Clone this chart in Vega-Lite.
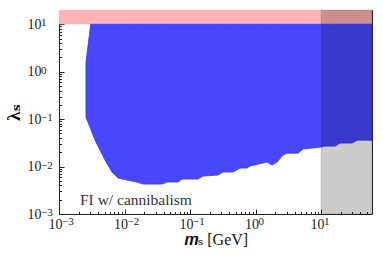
{
  "$schema": "https://vega.github.io/schema/vega-lite/v6.json",
  "width": 313,
  "height": 204,
  "autosize": {"type": "none"},
  "padding": {"left": 59, "top": 10, "right": 11, "bottom": 46},
  "config": {
    "view": {"stroke": "#222", "strokeWidth": 1},
    "font": "Liberation Serif, DejaVu Serif",
    "axis": {"grid": false, "domain": false, "tickColor": "#222", "labelColor": "#222", "titleColor": "#111", "labelFont": "Liberation Serif", "titleFont": "Liberation Serif, DejaVu Serif"}
  },
  "resolve": {"axis": {"x": "independent", "y": "independent"}},
  "layer": [
    {
      "data": {"values": [{"x": 0.001, "x2": 60, "y": 10, "y2": 20}]},
      "mark": {"type": "rect", "fill": "#ffb3b3"},
      "encoding": {
        "x": {"field": "x", "type": "quantitative", "scale": {"type": "log", "domain": [0.001, 60], "nice": false}, "axis": null},
        "x2": {"field": "x2"},
        "y": {"field": "y", "type": "quantitative", "scale": {"type": "log", "domain": [0.001, 20], "nice": false}, "axis": null},
        "y2": {"field": "y2"}
      }
    },
    {
      "data": {"values": [
        {"x": 0.00258, "lo": 0.110, "hi": 1.58},
        {"x": 0.00305, "lo": 0.0616, "hi": 10},
        {"x": 0.00355, "lo": 0.0361, "hi": 10},
        {"x": 0.00504, "lo": 0.0137, "hi": 10},
        {"x": 0.00644, "lo": 0.00766, "hi": 10},
        {"x": 0.00796, "lo": 0.00573, "hi": 10},
        {"x": 0.0109, "lo": 0.0052, "hi": 10},
        {"x": 0.0155, "lo": 0.00472, "hi": 10},
        {"x": 0.0192, "lo": 0.00428, "hi": 10},
        {"x": 0.0374, "lo": 0.00428, "hi": 10},
        {"x": 0.0446, "lo": 0.00472, "hi": 10},
        {"x": 0.0656, "lo": 0.00472, "hi": 10},
        {"x": 0.0755, "lo": 0.00546, "hi": 10},
        {"x": 0.1324, "lo": 0.00546, "hi": 10},
        {"x": 0.158, "lo": 0.0063, "hi": 10},
        {"x": 0.267, "lo": 0.00662, "hi": 10},
        {"x": 0.319, "lo": 0.00766, "hi": 10},
        {"x": 0.453, "lo": 0.00766, "hi": 10},
        {"x": 0.579, "lo": 0.00929, "hi": 10},
        {"x": 0.741, "lo": 0.00929, "hi": 10},
        {"x": 0.824, "lo": 0.01025, "hi": 10},
        {"x": 1.30, "lo": 0.01186, "hi": 10},
        {"x": 1.50, "lo": 0.01245, "hi": 10},
        {"x": 1.79, "lo": 0.01076, "hi": 10},
        {"x": 2.13, "lo": 0.01245, "hi": 10},
        {"x": 2.63, "lo": 0.01746, "hi": 10},
        {"x": 3.03, "lo": 0.0192, "hi": 10},
        {"x": 4.46, "lo": 0.0192, "hi": 10},
        {"x": 5.31, "lo": 0.0234, "hi": 10},
        {"x": 9.66, "lo": 0.0257, "hi": 10},
        {"x": 11.5, "lo": 0.0270, "hi": 10},
        {"x": 16.4, "lo": 0.0270, "hi": 10},
        {"x": 19.5, "lo": 0.0313, "hi": 10},
        {"x": 29.7, "lo": 0.0313, "hi": 10},
        {"x": 35.5, "lo": 0.0361, "hi": 10},
        {"x": 60, "lo": 0.0361, "hi": 10}
      ]},
      "mark": {"type": "area", "fill": "#4848ff", "stroke": "#3535f0", "strokeWidth": 0.8, "opacity": 1},
      "encoding": {
        "x": {"field": "x", "type": "quantitative", "sort": null,
          "axis": {"orient": "bottom", "values": [0.001, 0.01, 0.1, 1, 10], "labelExpr": "'10'", "labelAlign": "right", "labelBaseline": "top", "labelOffset": 3, "tickSize": -5, "labelPadding": 8, "labelFontSize": 14, "title": "𝒎ₛ [GeV]", "titleFontSize": 16, "titleFontWeight": "normal", "titlePadding": 0}},
        "y": {"field": "lo", "type": "quantitative",
          "axis": {"orient": "left", "values": [0.001, 0.01, 0.1, 1, 10], "labelExpr": "'10'", "tickSize": -5, "labelPadding": 23, "labelFontSize": 14, "title": "λₛ", "titleFontSize": 19, "titleFontWeight": "bold", "titlePadding": 4}},
        "y2": {"field": "hi"}
      }
    },
    {
      "data": {"values": [{"x": 10, "x2": 60, "y": 0.001, "y2": 20}]},
      "mark": {"type": "rect", "fill": "#000", "fillOpacity": 0.2, "stroke": "#000", "strokeOpacity": 0.12, "strokeWidth": 1},
      "encoding": {
        "x": {"field": "x", "type": "quantitative", "axis": null},
        "x2": {"field": "x2"},
        "y": {"field": "y", "type": "quantitative", "axis": null},
        "y2": {"field": "y2"}
      }
    },
    {
      "data": {"values": [{"x": 0.00209, "y": 0.00155, "label": "FI w/ cannibalism"}]},
      "mark": {"type": "text", "align": "left", "baseline": "alphabetic", "fontSize": 15.5, "color": "#333", "font": "Liberation Serif, DejaVu Serif"},
      "encoding": {
        "x": {"field": "x", "type": "quantitative", "axis": null},
        "y": {"field": "y", "type": "quantitative", "axis": null},
        "text": {"field": "label"}
      }
    },
    {
      "data": {"values": [{"v": 0.001, "e": "−3"}, {"v": 0.01, "e": "−2"}, {"v": 0.1, "e": "−1"}, {"v": 1, "e": "0"}, {"v": 10, "e": "1"}]},
      "mark": {"type": "text", "align": "left", "baseline": "alphabetic", "fontSize": 11, "color": "#222", "font": "Liberation Serif, DejaVu Serif", "dx": 3, "dy": 11, "clip": false},
      "encoding": {
        "x": {"field": "v", "type": "quantitative", "axis": null},
        "y": {"datum": 0.001, "type": "quantitative", "axis": null},
        "text": {"field": "e"}
      }
    },
    {
      "data": {"values": [{"v": 0.001, "e": "−3"}, {"v": 0.01, "e": "−2"}, {"v": 0.1, "e": "−1"}, {"v": 1, "e": "0"}, {"v": 10, "e": "1"}]},
      "mark": {"type": "text", "align": "left", "baseline": "alphabetic", "fontSize": 11, "color": "#222", "font": "Liberation Serif, DejaVu Serif", "dx": -18, "dy": 2, "clip": false},
      "encoding": {
        "x": {"datum": 0.001, "type": "quantitative", "axis": null},
        "y": {"field": "v", "type": "quantitative", "axis": null},
        "text": {"field": "e"}
      }
    },
    {
      "data": {"values": [{"x": 1, "y": 1}]},
      "mark": {"type": "point", "opacity": 0},
      "encoding": {
        "x": {"field": "x", "type": "quantitative",
          "axis": {"orient": "bottom", "values": [0.002, 0.003, 0.004, 0.005, 0.006, 0.007, 0.008, 0.009, 0.02, 0.03, 0.04, 0.05, 0.06, 0.07, 0.08, 0.09, 0.2, 0.3, 0.4, 0.5, 0.6, 0.7, 0.8, 0.9, 2, 3, 4, 5, 6, 7, 8, 9, 20, 30, 40, 50], "labels": false, "tickSize": -2.5, "title": null}},
        "y": {"field": "y", "type": "quantitative",
          "axis": {"orient": "left", "values": [0.002, 0.003, 0.004, 0.005, 0.006, 0.007, 0.008, 0.009, 0.02, 0.03, 0.04, 0.05, 0.06, 0.07, 0.08, 0.09, 0.2, 0.3, 0.4, 0.5, 0.6, 0.7, 0.8, 0.9, 2, 3, 4, 5, 6, 7, 8, 9], "labels": false, "tickSize": -2.5, "title": null}}
      }
    }
  ]
}
